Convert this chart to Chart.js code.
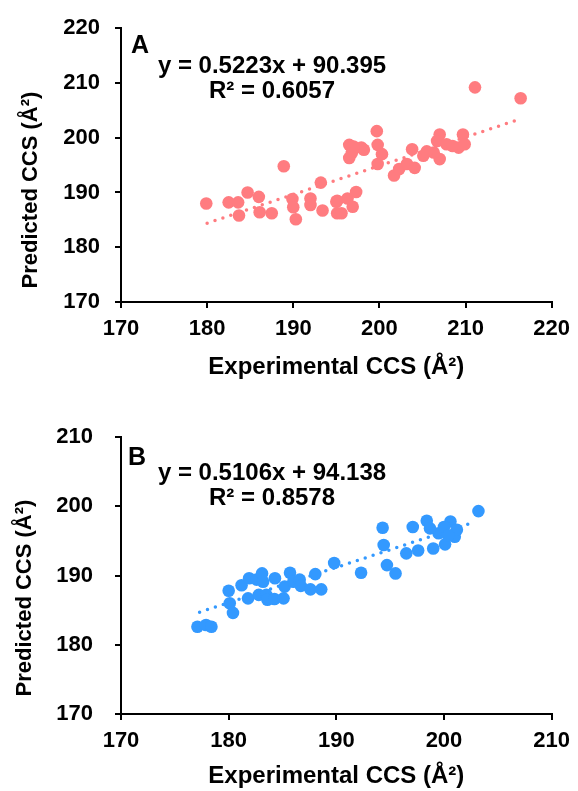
<!DOCTYPE html>
<html>
<head>
<meta charset="utf-8">
<script src="https://cdn.jsdelivr.net/npm/chart.js@4.4.1/dist/chart.umd.min.js"></script>
<style>
  html, body { margin: 0; padding: 0; background: #fff; }
  canvas { display: block; }
</style>
</head>
<body>
<canvas id="chart-a" width="578" height="396"></canvas>
<canvas id="chart-b" width="578" height="395"></canvas>
<script>
// panel A
const expA = [179.9, 188.9, 182.5, 183.6, 184.7, 186.0, 183.7, 186.1, 187.5, 189.9, 190.0, 190.3,
  192.0, 192.0, 193.2, 193.4, 195.1, 195.1, 211.1, 216.4, 199.7, 196.5, 197.9, 198.2, 196.5,
  199.8, 200.3, 199.8, 203.8, 205.1, 207.0, 206.7, 207.8, 207.0, 209.7, 209.2, 209.9, 201.7,
  202.3, 203.2, 204.1, 206.3, 197.3, 195.0, 196.3, 196.9, 195.6, 205.5, 208.5, 197.0, 196.8]
const predA = [188.0, 194.8, 188.2, 188.2, 190.0, 189.2, 185.8, 186.4, 186.2, 188.8, 187.3, 185.1,
  188.9, 187.7, 191.8, 186.7, 188.5, 186.2, 209.2, 207.2, 201.2, 198.7, 198.2, 197.8, 196.3,
  198.7, 197.0, 195.2, 197.9, 196.7, 200.6, 199.4, 198.8, 196.1, 200.6, 198.2, 198.8, 193.1,
  194.3, 195.2, 194.5, 197.3, 190.1, 188.3, 188.9, 187.4, 186.2, 197.5, 198.5, 198.4, 197.2]
const trendAX = [180, 216.3]
const trendAY = [184.4, 203.4]

// panel B
const expB = [177.1, 177.9, 178.4, 180.0, 180.1, 180.4, 181.2, 181.9, 181.8, 182.6, 183.1, 183.2,
  182.8, 183.5, 183.6, 184.3, 184.25, 185.1, 185.2, 185.7, 186.0, 186.6, 186.7, 187.6, 188.6,
  188.05, 189.8, 203.2, 194.3, 194.4, 194.7, 195.5, 192.3, 196.5, 197.6, 197.1, 198.4, 199.0,
  200.1, 200.6, 201.0, 199.5, 201.2, 200.0, 198.7, 200.4]
const predB = [182.6, 182.85, 182.6, 187.8, 186.0, 184.6, 188.6, 189.6, 186.7, 189.4, 190.3, 189.1,
  187.2, 187.2, 186.5, 189.6, 186.6, 186.7, 188.4, 190.4, 189.1, 189.4, 188.5, 188.0, 188.0,
  190.2, 191.8, 199.3, 196.9, 194.4, 191.5, 190.3, 190.4, 193.2, 193.6, 197.0, 197.9, 193.9,
  194.5, 197.8, 195.6, 196.1, 196.6, 197.0, 196.8, 195.8]
const trendBX = [177.3, 202.6]
const trendBY = [184.7, 197.6]

const xTitle = "Experimental CCS (Å²)"
const yTitle = "Predicted CCS (Å²)"

const FONT = '"Liberation Sans", Arial, sans-serif'

const toPoints = (xs, ys) => xs.map((x, i) => ({ x: x, y: ys[i] }))

// letter, equation, R² and the y title
const notes = {
  id: "notes",
  afterDraw(chart, args, o) {
    const c = chart.ctx
    c.save()
    c.fillStyle = "#000"
    c.textBaseline = "alphabetic"
    c.textAlign = "left"
    c.font = "bold 25px " + FONT
    c.fillText(o.letter, o.lx, o.ly)
    c.textAlign = "center"
    c.font = "bold 24px " + FONT
    c.fillText(o.eq, o.ex, o.ey)
    c.fillText(o.r2, o.ex, o.ey + 25)
    c.translate(o.tx, o.ty)
    c.rotate(-Math.PI / 2)
    c.textBaseline = "middle"
    c.font = "bold 22px " + FONT
    c.fillText(yTitle, 0, 0)
    c.restore()
  },
}

function makeChart(id, cfg) {
  return new Chart(document.getElementById(id), {
    type: "scatter",
    data: {
      datasets: [
        {
          data: toPoints(cfg.xs, cfg.ys),
          backgroundColor: cfg.color,
          borderWidth: 0,
          pointRadius: 6.3,
          pointHoverRadius: 6.3,
        },
        {
          data: toPoints(cfg.tx, cfg.ty),
          showLine: true,
          borderColor: cfg.color,
          borderWidth: 3.5,
          borderDash: [0, 8.3],
          borderCapStyle: "round",
          pointRadius: 0,
          fill: false,
        },
      ],
    },
    options: {
      responsive: false,
      animation: false,
      devicePixelRatio: 1,
      layout: { padding: { top: cfg.top, right: 22, left: 0, bottom: 0 } },
      plugins: {
        legend: { display: false },
        tooltip: { enabled: false },
        notes: cfg.notes,
      },
      scales: {
        x: {
          type: "linear",
          min: 170,
          max: cfg.xmax,
          afterFit: (s) => { s.height = cfg.xh },
          border: { display: true, color: "#000", width: 2 },
          grid: { drawOnChartArea: false, drawTicks: true, tickLength: 6, color: "#000", lineWidth: 2 },
          ticks: { stepSize: 10, color: "#000", padding: 8, font: { family: FONT, size: 22, weight: "bold" } },
          title: {
            display: true,
            text: xTitle,
            color: "#000",
            padding: { top: 0, bottom: cfg.titlePad },
            font: { family: FONT, size: 24, weight: "bold" },
          },
        },
        y: {
          type: "linear",
          min: 170,
          max: cfg.ymax,
          afterFit: (s) => { s.width = 121 },
          border: { display: true, color: "#000", width: 2 },
          grid: { drawOnChartArea: false, drawTicks: true, tickLength: 6, color: "#000", lineWidth: 2 },
          ticks: { stepSize: 10, color: "#000", padding: cfg.yPad, font: { family: FONT, size: 22, weight: "bold" } },
        },
      },
    },
    plugins: [notes],
  })
}

makeChart("chart-a", {
  xs: expA, ys: predA, tx: trendAX, ty: trendAY,
  color: "#FF7C80", xmax: 220, ymax: 220,
  top: 24, xh: 94, titlePad: 14, yPad: 15,
  notes: { letter: "A", lx: 131, ly: 53, eq: "y = 0.5223x + 90.395", r2: "R² = 0.6057", ex: 272, ey: 73, tx: 31, ty: 190 },
})

makeChart("chart-b", {
  xs: expB, ys: predB, tx: trendBX, ty: trendBY,
  color: "#3399FF", xmax: 210, ymax: 210,
  top: 41, xh: 77, titlePad: 0, yPad: 22,
  notes: { letter: "B", lx: 128, ly: 69, eq: "y = 0.5106x + 94.138", r2: "R² = 0.8578", ex: 272, ey: 84, tx: 25, ty: 202 },
})
</script>
</body>
</html>
